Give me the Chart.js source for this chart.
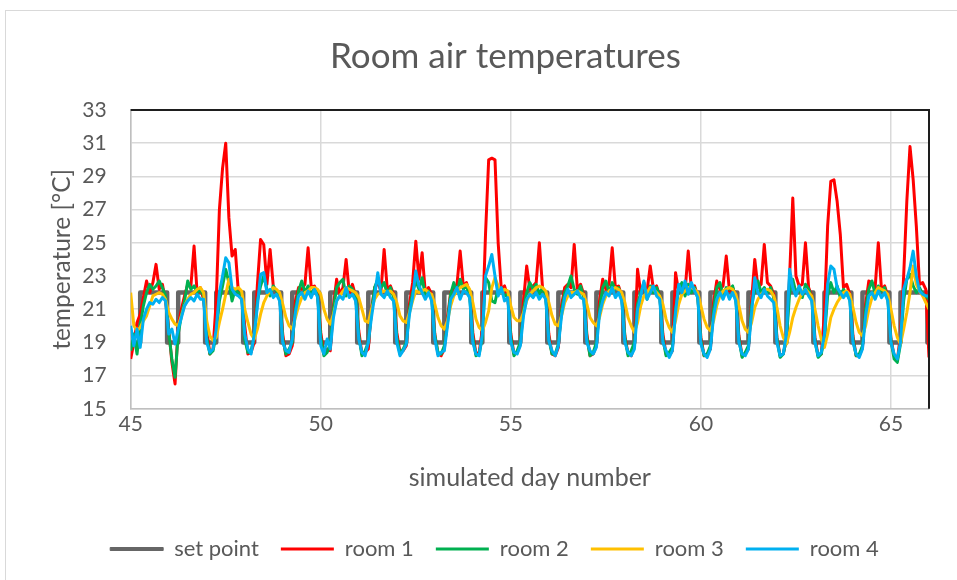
<!DOCTYPE html>
<html>
<head>
<meta charset="utf-8">
<script src="https://cdn.jsdelivr.net/npm/chart.js@4/dist/chart.umd.min.js"></script>
<style>
  html, body { margin: 0; padding: 0; background: #ffffff; }
  #wrap { position: relative; width: 957px; height: 580px; overflow: hidden; }
  #frame { position: absolute; left: 5px; top: 10px; width: 1000px; height: 700px; border: 1px solid #d9d9d9; box-sizing: border-box; }
  canvas { position: absolute; left: 0; top: 0; }
</style>
</head>
<body>
<div id="wrap">
  <div id="frame"></div>
  <canvas id="c" width="957" height="580"></canvas>
</div>
<script>
// ---- data ----
const chartTitle = 'Room air temperatures';
const xTitle = 'simulated day number';
const yTitle = 'temperature [°C]';
const seriesNames = ['set point', 'room 1', 'room 2', 'room 3', 'room 4'];
const days = [45, 46, 47, 48, 49, 50, 51, 52, 53, 54, 55, 56, 57, 58, 59, 60, 61, 62, 63, 64, 65];
const endDay = 66;
const hoursOfDay = [0, 2, 4, 6, 8, 10, 12, 14, 16, 18, 20, 22];
const xTicks = [45, 50, 55, 60, 65];
const yMin = 15, yMax = 33, yStep = 2;

const setPointTimes = [45, 45.25, 45.958, 46.25, 46.958, 47.25, 47.958, 48.25, 48.958, 49.25, 49.958,
  50.25, 50.958, 51.25, 51.958, 52.25, 52.958, 53.25, 53.958, 54.25, 54.958,
  55.25, 55.958, 56.25, 56.958, 57.25, 57.958, 58.25, 58.958, 59.25, 59.958,
  60.25, 60.958, 61.25, 61.958, 62.25, 62.958, 63.25, 63.958, 64.25, 64.958,
  65.25, 65.958, 66];
const setPointValues = [19, 22, 19, 22, 19, 22, 19, 22, 19, 22, 19,
  22, 19, 22, 19, 22, 19, 22, 19, 22, 19,
  22, 19, 22, 19, 22, 19, 22, 19, 22, 19,
  22, 19, 22, 19, 22, 19, 22, 19, 22, 19,
  22, 19, 19];

const room1 = [
  18.0, 19.0, 20.2, 20.7, 21.7, 22.7, 22.0, 22.6, 23.7, 22.2, 22.5, 21.5,
  19.8, 17.8, 16.5, 20.0, 21.0, 21.8, 22.5, 22.4, 24.8, 21.9, 22.3, 21.6,
  19.8, 18.3, 18.6, 21.5, 27.0, 29.5, 31.0, 26.5, 24.2, 24.6, 22.0, 21.8,
  20.0, 18.3, 18.4, 19.0, 22.5, 25.2, 24.9, 22.5, 24.6, 22.4, 22.1, 21.8,
  19.5, 18.2, 18.3, 18.8, 21.5, 22.3, 22.2, 22.5, 24.7, 22.3, 22.4, 21.9,
  19.6, 18.3, 18.6, 18.5, 21.2, 22.8, 21.9, 22.3, 24.0, 22.0, 22.5, 21.8,
  19.7, 18.3, 18.4, 18.6, 21.0, 22.3, 22.6, 22.1, 24.6, 22.2, 22.4, 21.9,
  19.6, 18.4, 18.5, 18.8, 21.3, 22.6, 25.1, 22.8, 24.4, 22.0, 22.3, 21.9,
  19.5, 18.3, 18.2, 18.6, 20.5, 22.0, 22.3, 22.5, 24.5, 22.4, 22.6, 22.0,
  19.6, 18.3, 18.4, 19.8, 25.5, 30.0, 30.1, 30.0, 25.0, 22.2, 22.4, 21.8,
  19.5, 18.3, 18.4, 18.9, 21.5, 23.6, 22.2, 22.4, 22.6, 25.0, 22.3, 21.8,
  19.5, 18.3, 18.2, 18.7, 21.2, 22.3, 22.5, 22.3, 24.9, 22.2, 22.5, 21.9,
  19.5, 18.2, 18.3, 18.8, 21.5, 22.8, 22.2, 22.5, 24.7, 22.3, 22.4, 21.8,
  19.4, 18.3, 18.2, 18.8, 23.4, 22.0, 22.3, 22.1, 23.6, 22.2, 22.4, 21.8,
  19.5, 18.3, 18.2, 18.5, 23.2, 22.0, 22.3, 22.1, 24.5, 22.2, 22.4, 21.8,
  19.3, 18.2, 18.3, 18.6, 21.4, 22.7, 22.2, 22.4, 24.2, 22.1, 22.3, 21.8,
  19.4, 18.2, 18.3, 18.6, 21.5, 24.0, 22.3, 22.5, 24.9, 22.6, 22.4, 21.9,
  19.3, 18.2, 18.3, 19.2, 23.0, 27.7, 23.0, 22.4, 22.5, 25.0, 22.3, 21.8,
  19.3, 18.2, 18.3, 20.8, 26.0, 28.7, 28.8, 27.5, 25.5, 22.3, 22.5, 21.9,
  19.4, 18.2, 18.2, 18.7, 21.3, 22.7, 22.6, 22.3, 25.0, 22.2, 22.4, 21.8,
  19.2, 18.2, 17.9, 19.5, 23.0, 27.5, 30.8, 28.8, 26.0, 22.5, 22.6, 22.2,
  18.1];

const room2 = [
  18.5, 19.5, 18.3, 20.0, 21.2, 22.0, 22.5, 22.2, 22.4, 22.7, 22.3, 21.8,
  19.6, 18.0, 16.9, 19.5, 20.6, 21.5, 22.7, 22.2, 22.4, 22.0, 22.2, 21.8,
  19.3, 18.3, 18.5, 19.5, 21.5, 22.4, 23.4, 22.6, 21.5, 22.2, 22.0, 21.9,
  19.2, 18.4, 18.5, 19.3, 21.5, 22.4, 23.0, 22.2, 21.8, 22.4, 22.1, 21.9,
  19.2, 18.3, 18.6, 19.0, 21.0, 22.1, 22.7, 22.0, 22.4, 21.8, 22.3, 21.8,
  19.3, 18.2, 18.4, 18.9, 21.0, 22.3, 22.6, 22.8, 21.8, 22.4, 22.2, 21.9,
  19.4, 18.2, 18.5, 19.0, 20.8, 22.3, 22.8, 22.3, 22.6, 21.9, 22.3, 21.7,
  19.3, 18.3, 18.6, 19.0, 21.0, 22.0, 22.7, 22.2, 22.9, 21.8, 22.1, 21.7,
  19.4, 18.4, 18.3, 18.8, 20.2, 21.9, 22.6, 22.0, 22.8, 22.2, 22.4, 21.8,
  19.3, 18.2, 18.3, 19.3, 22.9, 22.6, 21.5, 21.4, 22.3, 22.1, 21.8, 21.9,
  19.3, 18.2, 18.5, 19.0, 21.0, 22.0, 22.6, 22.2, 22.5, 21.9, 22.3, 21.8,
  19.2, 18.3, 18.3, 18.9, 20.9, 22.0, 22.4, 23.0, 22.2, 21.9, 22.4, 21.7,
  19.3, 18.2, 18.4, 19.0, 21.0, 22.3, 22.7, 22.0, 22.6, 22.2, 22.3, 21.7,
  19.3, 18.2, 18.5, 19.0, 21.3, 22.0, 22.6, 21.6, 22.4, 22.0, 22.3, 21.8,
  19.2, 18.2, 18.4, 18.7, 21.0, 22.2, 22.6, 21.8, 22.5, 22.0, 22.3, 21.7,
  19.1, 18.2, 18.3, 18.8, 21.0, 22.3, 22.6, 21.8, 22.3, 22.2, 22.4, 21.6,
  19.2, 18.1, 18.4, 18.8, 21.2, 22.2, 22.7, 22.0, 22.3, 22.0, 22.3, 21.7,
  19.2, 18.1, 18.3, 19.2, 22.0, 22.8, 22.0, 22.3, 21.7, 22.5, 22.2, 21.7,
  19.1, 18.1, 18.3, 19.3, 21.8, 22.6, 22.0, 22.4, 21.7, 22.2, 21.9, 21.6,
  19.2, 18.2, 18.3, 18.8, 21.0, 22.2, 22.7, 21.9, 22.4, 22.1, 22.3, 21.6,
  19.1, 18.0, 17.8, 18.9, 21.5, 22.8, 23.1, 22.4, 22.0, 22.3, 21.9, 21.8,
  21.6];

const room3 = [
  22.0, 20.0, 19.7, 19.9, 20.3, 20.6, 21.2, 21.8, 21.9, 22.0, 21.9, 21.6,
  20.8, 20.4, 20.1, 20.0, 20.6, 21.2, 21.6, 21.9, 22.0, 22.2, 22.3, 22.0,
  20.3, 19.4, 19.1, 19.3, 20.2, 21.0, 21.9, 22.8, 22.3, 22.2, 22.3, 22.1,
  21.0, 20.2, 19.5, 19.2, 19.8, 20.7, 21.4, 21.8, 22.1, 22.3, 22.2, 22.0,
  21.3, 20.5, 20.0, 19.8, 20.5, 21.2, 21.7, 22.0, 22.1, 22.3, 22.3, 22.2,
  21.9, 21.0, 20.4, 20.1, 20.7, 21.5, 21.8, 22.1, 22.3, 22.2, 22.1, 22.0,
  21.7, 21.0, 20.3, 20.2, 21.0, 21.6, 21.9, 22.0, 22.1, 22.0, 22.1, 21.9,
  21.4, 20.6, 20.3, 20.2, 20.8, 21.5, 22.1, 22.0, 22.1, 22.2, 22.0, 21.9,
  21.3, 20.5, 20.0, 19.8, 20.3, 21.2, 21.8, 22.1, 22.3, 22.4, 22.5, 22.2,
  21.4, 20.4, 19.9, 19.7, 20.2, 20.9, 22.3, 22.9, 22.4, 22.0, 22.2, 22.1,
  21.2, 20.5, 20.3, 20.3, 20.8, 21.5, 21.9, 22.1, 22.3, 22.4, 22.3, 22.1,
  21.4, 20.6, 20.1, 20.0, 20.6, 21.4, 21.8, 22.0, 22.0, 22.1, 22.0, 21.9,
  21.3, 20.5, 20.2, 20.0, 20.5, 21.3, 21.8, 22.1, 22.2, 22.3, 22.2, 22.0,
  21.4, 20.5, 20.0, 19.6, 20.2, 21.2, 21.8, 22.0, 22.3, 22.2, 22.0, 21.8,
  21.3, 20.4, 19.9, 19.6, 20.3, 21.3, 21.9, 22.1, 22.3, 22.3, 22.2, 22.0,
  21.2, 20.4, 19.9, 19.7, 20.3, 21.2, 21.8, 22.1, 22.2, 22.3, 22.2, 21.9,
  21.2, 20.3, 19.8, 19.6, 20.2, 21.1, 21.6, 21.9, 22.1, 22.2, 22.1, 21.8,
  21.1, 20.0, 19.3, 18.9, 19.6, 20.5, 21.1, 21.6, 22.0, 22.2, 22.0, 21.8,
  21.0, 20.0, 19.2, 18.7, 19.5, 20.5, 21.0, 21.4, 21.7, 22.0, 22.1, 21.9,
  21.1, 20.2, 19.6, 19.4, 20.0, 21.0, 21.7, 22.0, 22.3, 22.2, 22.1, 21.9,
  21.0, 20.0, 19.3, 18.9, 19.8, 20.8, 22.0, 23.6, 22.5, 22.1, 21.8, 21.4,
  21.0];

const room4 = [
  20.0, 18.8, 19.8, 18.7, 20.4, 21.0, 21.4, 21.3, 21.6, 21.4, 21.7, 21.5,
  19.5, 19.8, 18.9, 19.8, 20.5, 21.2, 21.5, 21.7, 21.5, 21.9, 21.6, 21.6,
  19.0, 18.4, 18.6, 19.8, 22.0, 23.0, 24.1, 23.8, 22.2, 21.9, 21.8, 21.6,
  19.5, 18.6, 18.3, 19.5, 21.2, 23.1, 23.2, 22.0, 22.2, 21.7, 21.9, 21.5,
  19.0, 18.5, 18.4, 19.2, 20.8, 21.8, 22.0, 21.6, 22.1, 21.7, 22.2, 21.7,
  18.8, 18.3, 19.2, 18.6, 20.5, 21.5, 21.8, 21.6, 22.3, 21.7, 21.9, 21.5,
  19.2, 18.4, 18.2, 19.0, 20.5, 21.8, 23.2, 21.9, 21.7, 22.1, 21.7, 21.5,
  19.0, 18.2, 18.5, 18.9, 20.7, 21.7, 23.3, 22.4, 22.0, 21.6, 22.0, 21.5,
  19.2, 18.2, 18.4, 18.5, 20.0, 21.6, 21.9, 22.3, 21.6, 22.1, 22.0, 21.7,
  19.0, 18.3, 18.2, 19.5, 23.0, 23.6, 24.3, 23.0, 21.8, 22.3, 21.5, 21.7,
  19.0, 18.4, 18.3, 18.8, 20.6, 21.6, 21.9, 21.7, 22.0, 21.6, 21.9, 21.6,
  19.1, 18.5, 18.2, 18.8, 20.6, 21.7, 22.2, 21.7, 21.9, 22.1, 21.7, 21.6,
  19.0, 18.5, 18.3, 18.7, 20.7, 21.5, 22.0, 21.8, 22.3, 21.7, 22.0, 21.5,
  19.0, 18.4, 18.2, 18.6, 21.0, 21.8, 22.7, 21.6, 22.0, 22.4, 21.8, 21.6,
  19.0, 18.5, 18.1, 18.5, 20.8, 22.5, 22.0, 22.7, 21.9, 22.6, 22.1, 21.7,
  18.9, 18.3, 18.1, 18.6, 20.6, 21.6, 22.0, 21.6, 22.1, 21.6, 22.0, 21.5,
  19.0, 18.3, 18.2, 18.6, 20.8, 22.9, 22.0, 21.7, 22.2, 21.8, 21.6, 21.4,
  19.0, 18.2, 18.3, 19.5, 23.4, 22.3, 21.8, 22.4, 21.9, 22.2, 21.8, 21.5,
  19.0, 18.2, 18.4, 19.5, 22.5, 23.6, 23.4, 22.3, 22.0, 21.7, 22.0, 21.5,
  19.0, 18.3, 18.1, 18.6, 20.6, 21.8, 22.0, 21.6, 22.1, 21.7, 22.0, 21.5,
  19.0, 18.3, 18.0, 19.0, 22.2, 22.8, 23.5, 24.5, 23.0, 22.1, 21.9, 21.8,
  21.8];

// ---- build points from the arrays ----
function toPoints(values) {
  const pts = [];
  days.forEach((d, di) => {
    hoursOfDay.forEach((h, hi) => {
      pts.push({ x: d + h / 24, y: values[di * hoursOfDay.length + hi] });
    });
  });
  pts.push({ x: endDay, y: values[values.length - 1] });
  return pts;
}
const setPointPoints = setPointTimes.map((t, i) => ({ x: t, y: setPointValues[i] }));

const textColor = '#595959';
const fontFamily = 'Lato, "Open Sans", sans-serif';

// plot frame: dark top and right edges
const frameLines = {
  id: 'frameLines',
  afterDatasetsDraw(chart) {
    const { ctx, chartArea } = chart;
    ctx.save();
    ctx.strokeStyle = '#1e1e1e';
    ctx.lineWidth = 2;
    ctx.beginPath();
    ctx.moveTo(chartArea.left, chartArea.top);
    ctx.lineTo(chartArea.right, chartArea.top);
    ctx.lineTo(chartArea.right, chartArea.bottom);
    ctx.stroke();
    ctx.restore();
  }
};

// the original figure is centred on a frame wider than the visible crop
const shiftBlocks = {
  id: 'shiftBlocks',
  afterLayout(chart) {
    if (chart.titleBlock) { chart.titleBlock.left += 62; }
    if (chart.legend) { chart.legend.left += 40; chart.legend.right += 0; }
  }
};

const legendLineWidths = [1, 0, 0, 0, 0];

new Chart(document.getElementById('c'), {
  type: 'line',
  data: {
    datasets: [
      { label: seriesNames[0], data: setPointPoints, borderColor: '#666666', backgroundColor: '#666666', borderWidth: 4.5, stepped: 'before', order: 5 },
      { label: seriesNames[1], data: toPoints(room1), borderColor: '#ff0000', backgroundColor: '#ff0000', borderWidth: 3, order: 4 },
      { label: seriesNames[2], data: toPoints(room2), borderColor: '#00b050', backgroundColor: '#00b050', borderWidth: 3, order: 3 },
      { label: seriesNames[3], data: toPoints(room3), borderColor: '#ffc000', backgroundColor: '#ffc000', borderWidth: 3, order: 2 },
      { label: seriesNames[4], data: toPoints(room4), borderColor: '#00b0f0', backgroundColor: '#00b0f0', borderWidth: 3, order: 1 }
    ]
  },
  options: {
    responsive: false,
    animation: false,
    devicePixelRatio: 1,
    elements: { point: { radius: 0 }, line: { tension: 0, borderJoinStyle: 'round' } },
    layout: { padding: { left: 20, right: 28, top: 0, bottom: 10 } },
    plugins: {
      tooltip: { enabled: false },
      title: {
        display: true, text: chartTitle, color: textColor,
        font: { family: fontFamily, size: 35, weight: 'normal' },
        padding: { top: 36, bottom: 32 }
      },
      legend: {
        position: 'bottom',
        labels: {
          color: textColor,
          font: { family: fontFamily, size: 22 },
          boxWidth: 53, boxHeight: 3, padding: 22,
          sort: (a, b) => a.datasetIndex - b.datasetIndex,
          generateLabels(chart) {
            const items = Chart.defaults.plugins.legend.labels.generateLabels(chart);
            items.forEach(it => { it.lineWidth = legendLineWidths[it.datasetIndex]; });
            return items;
          }
        }
      }
    },
    scales: {
      x: {
        type: 'linear', min: days[0], max: endDay,
        afterBuildTicks(scale) { scale.ticks = xTicks.map(v => ({ value: v })); },
        ticks: { color: textColor, font: { family: fontFamily, size: 21 }, padding: 3, maxRotation: 0 },
        grid: { color: '#d9d9d9', lineWidth: 1.5, drawTicks: false },
        border: { display: true, color: '#bfbfbf', width: 1.5 },
        title: { display: true, text: xTitle, color: textColor, font: { family: fontFamily, size: 25 }, padding: { top: 23, bottom: 23 } }
      },
      y: {
        min: yMin, max: yMax,
        ticks: { stepSize: yStep, color: textColor, font: { family: fontFamily, size: 21 }, padding: 24 },
        grid: { color: '#d9d9d9', lineWidth: 1.5, drawTicks: false },
        border: { display: true, color: '#bfbfbf', width: 1.5 },
        title: { display: true, text: yTitle, color: textColor, font: { family: fontFamily, size: 24.5 }, padding: { top: 27, bottom: 0 } },
        afterFit(scale) { scale.width = 110.7; }
      }
    }
  },
  plugins: [frameLines, shiftBlocks]
});
</script>
</body>
</html>
